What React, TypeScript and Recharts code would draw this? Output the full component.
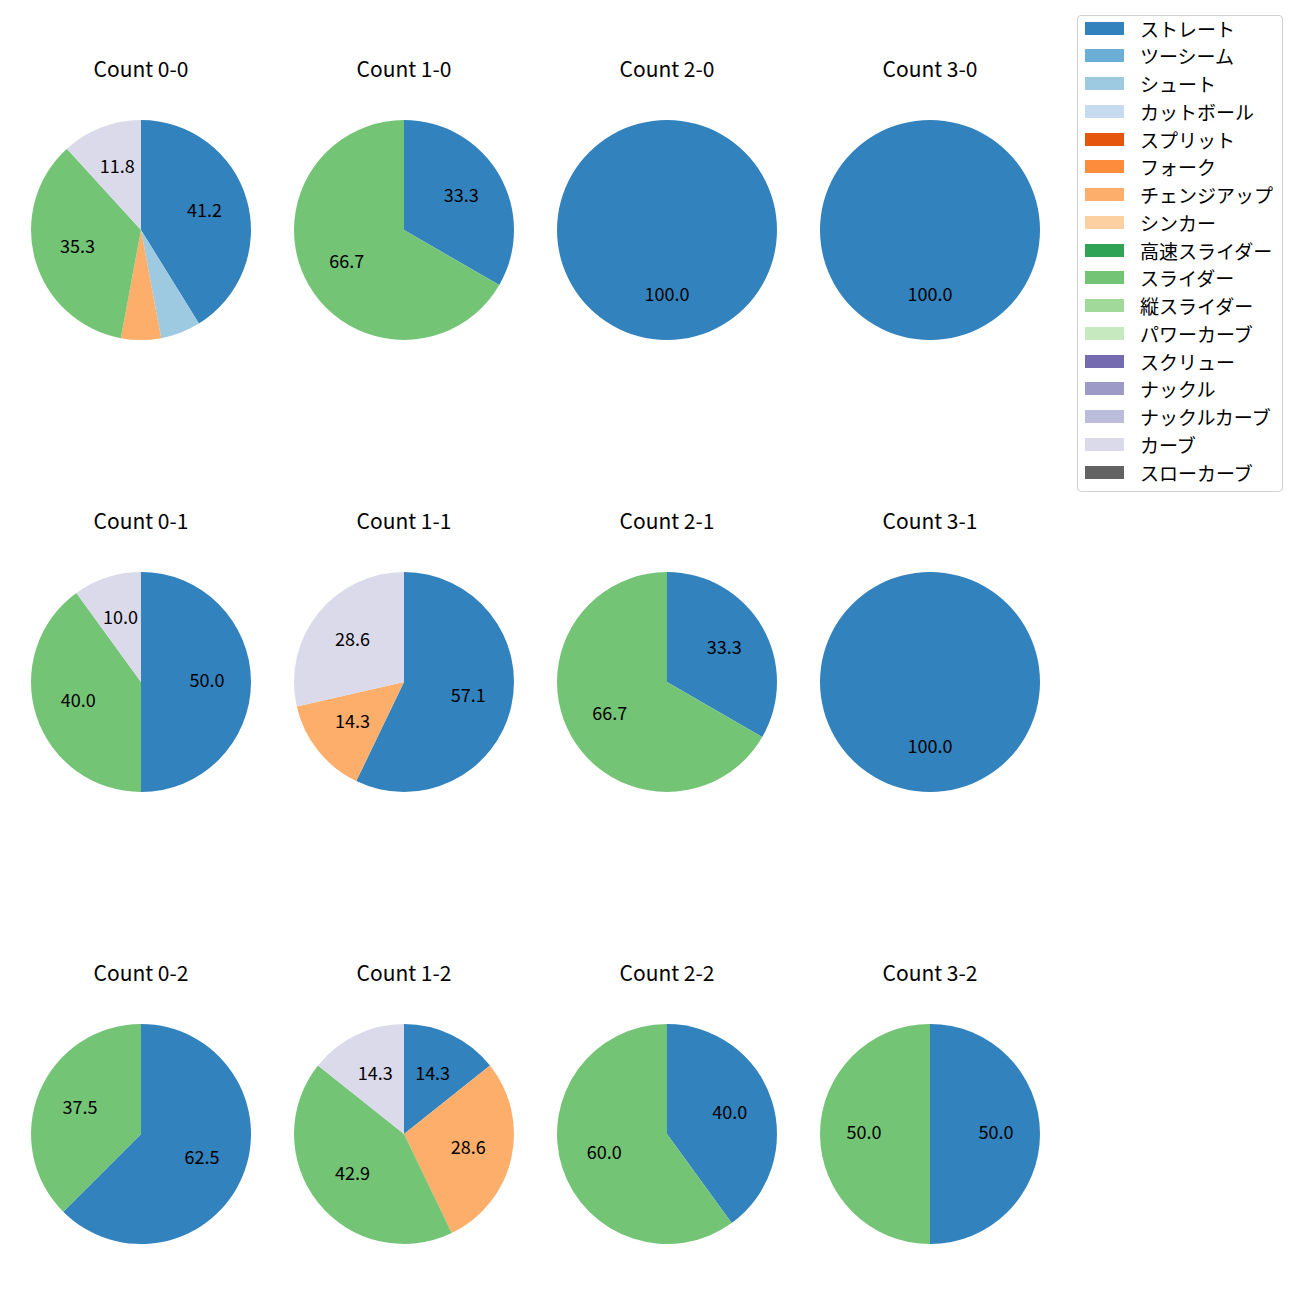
import { PieChart, Pie, Cell } from "recharts";

const pitchTypes = [
  "ストレート",
  "ツーシーム",
  "シュート",
  "カットボール",
  "スプリット",
  "フォーク",
  "チェンジアップ",
  "シンカー",
  "高速スライダー",
  "スライダー",
  "縦スライダー",
  "パワーカーブ",
  "スクリュー",
  "ナックル",
  "ナックルカーブ",
  "カーブ",
  "スローカーブ",
];

const pitchColors = [
  "#3182bd", "#6baed6", "#9ecae1", "#c6dbef",
  "#e6550d", "#fd8d3c", "#fdae6b", "#fdd0a2",
  "#31a354", "#74c476", "#a1d99b", "#c7e9c0",
  "#756bb1", "#9e9ac8", "#bcbddc", "#dadaeb",
  "#636363",
];

const countLabels = [
  "Count 0-0", "Count 1-0", "Count 2-0", "Count 3-0",
  "Count 0-1", "Count 1-1", "Count 2-1", "Count 3-1",
  "Count 0-2", "Count 1-2", "Count 2-2", "Count 3-2",
];

// pitch counts per ball-strike count, same order as pitchTypes
//                 St Tw Sh Cu Sp Fo Ch Si FS Sl VS PC Sc Kn KC Cv SC
const count00 = [7, 0, 1, 0, 0, 0, 1, 0, 0, 6, 0, 0, 0, 0, 0, 2, 0];
const count10 = [1, 0, 0, 0, 0, 0, 0, 0, 0, 2, 0, 0, 0, 0, 0, 0, 0];
const count20 = [1, 0, 0, 0, 0, 0, 0, 0, 0, 0, 0, 0, 0, 0, 0, 0, 0];
const count30 = [1, 0, 0, 0, 0, 0, 0, 0, 0, 0, 0, 0, 0, 0, 0, 0, 0];
const count01 = [5, 0, 0, 0, 0, 0, 0, 0, 0, 4, 0, 0, 0, 0, 0, 1, 0];
const count11 = [4, 0, 0, 0, 0, 0, 1, 0, 0, 0, 0, 0, 0, 0, 0, 2, 0];
const count21 = [1, 0, 0, 0, 0, 0, 0, 0, 0, 2, 0, 0, 0, 0, 0, 0, 0];
const count31 = [1, 0, 0, 0, 0, 0, 0, 0, 0, 0, 0, 0, 0, 0, 0, 0, 0];
const count02 = [5, 0, 0, 0, 0, 0, 0, 0, 0, 3, 0, 0, 0, 0, 0, 0, 0];
const count12 = [1, 0, 0, 0, 0, 0, 2, 0, 0, 3, 0, 0, 0, 0, 0, 1, 0];
const count22 = [2, 0, 0, 0, 0, 0, 0, 0, 0, 3, 0, 0, 0, 0, 0, 0, 0];
const count32 = [1, 0, 0, 0, 0, 0, 0, 0, 0, 1, 0, 0, 0, 0, 0, 0, 0];

const allCounts = [
  count00, count10, count20, count30,
  count01, count11, count21, count31,
  count02, count12, count22, count32,
];

const colX = [141, 404, 667, 930];
const rowY = [230, 682, 1134];
const RADIUS = 110;
const RADIAN = Math.PI / 180;
const FONT = '"Noto Sans CJK JP", "Noto Sans", sans-serif';

// matplotlib-style autopct: value at 0.6 of radius, small slices hidden
const renderLabel = (props: any) => {
  const { cx, cy, midAngle, outerRadius, percent } = props;
  const pct = percent * 100;
  if (pct < 8) return null;
  const r = outerRadius * 0.6;
  const x = cx + r * Math.cos(-midAngle * RADIAN);
  const y = cy + r * Math.sin(-midAngle * RADIAN) - 3;
  return (
    <text
      x={x}
      y={y}
      fill="#000"
      textAnchor="middle"
      dominantBaseline="central"
      fontSize={18}
      fontFamily={FONT}
    >
      {pct.toFixed(1)}
    </text>
  );
};

export default function App() {
  return (
    <div
      style={{
        position: "absolute",
        left: 0,
        top: 0,
        width: 1300,
        height: 1300,
        background: "#fff",
        fontFamily: FONT,
      }}
    >
      <PieChart width={1300} height={1300} margin={{ top: 0, right: 0, bottom: 0, left: 0 }}>
        {allCounts.map((counts, i) => {
          const data = counts
            .map((v, k) => ({ name: pitchTypes[k], value: v, color: pitchColors[k] }))
            .filter((d) => d.value > 0);
          return (
            <Pie
              key={countLabels[i]}
              data={data}
              dataKey="value"
              nameKey="name"
              cx={colX[i % 4]}
              cy={rowY[Math.floor(i / 4)]}
              outerRadius={RADIUS}
              startAngle={90}
              endAngle={-270}
              stroke="none"
              label={renderLabel}
              labelLine={false}
              isAnimationActive={false}
            >
              {data.map((d) => (
                <Cell key={d.name} fill={d.color} />
              ))}
            </Pie>
          );
        })}
      </PieChart>

      {countLabels.map((t, i) => (
        <div
          key={t}
          style={{
            position: "absolute",
            left: colX[i % 4] - 100,
            top: rowY[Math.floor(i / 4)] - 162 - 14,
            width: 200,
            height: 28,
            lineHeight: "28px",
            textAlign: "center",
            fontSize: 21,
            color: "#000",
          }}
        >
          {t}
        </div>
      ))}

      <div
        style={{
          position: "absolute",
          left: 1077,
          top: 15,
          width: 206,
          height: 477,
          border: "1px solid #d0d0d0",
          borderRadius: 4,
          boxSizing: "border-box",
        }}
      >
        {pitchTypes.map((p, k) => (
          <div
            key={p}
            style={{
              position: "absolute",
              left: 7,
              top: 12 + k * 27.75 - 14,
              height: 28,
              display: "flex",
              alignItems: "center",
            }}
          >
            <div style={{ width: 39, height: 13, background: pitchColors[k] }} />
            <span style={{ marginLeft: 16, fontSize: 19, color: "#000", whiteSpace: "nowrap" }}>{p}</span>
          </div>
        ))}
      </div>
    </div>
  );
}
